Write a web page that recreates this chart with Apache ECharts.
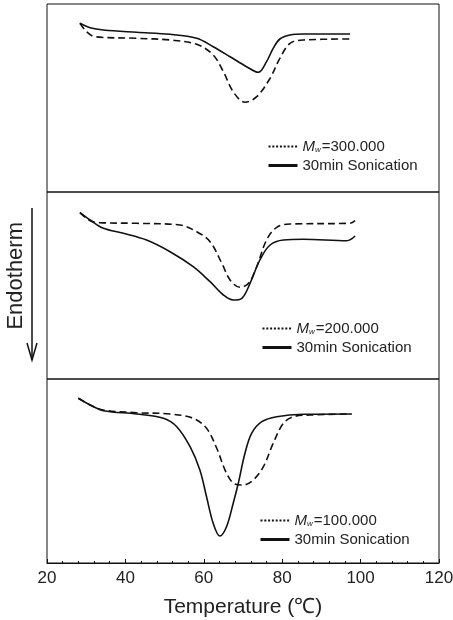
<!DOCTYPE html>
<html>
<head>
<meta charset="utf-8">
<script src="https://cdn.jsdelivr.net/npm/echarts@6/dist/echarts.min.js"></script>
<style>
  html, body { margin: 0; padding: 0; background: #fff; }
  #chart { width: 453px; height: 620px; }
</style>
</head>
<body>
<div id="chart"></div>
<script>
// X-axis ticks (Temperature, °C)
var xTicks = [20, 40, 60, 80, 100, 120];

// Panel 1: Mw = 300.000 (arbitrary heat-flow units)
var p1DashT = [28.4, 30.1, 32.2, 42.9, 51.4, 58.2, 62.4, 65.0, 67.5, 70.5, 73.5, 76.9, 79.4, 82.0, 85.4, 97.3];
var p1DashV = [168.7, 160.3, 155.3, 153.7, 152, 147.7, 137, 120.3, 100.3, 89.7, 95.3, 113.7, 133.7, 148.7, 152, 153];
var p1SolT = [28.4, 31.0, 34.4, 42.9, 51.4, 58.2, 62.4, 66.7, 70.9, 73.9, 76.0, 77.7, 79.4, 82.0, 85.4, 97.3];
var p1SolV = [168.7, 164.3, 162, 159.7, 157.7, 153.7, 145.3, 135.3, 125.3, 119.7, 130.3, 143.7, 153, 157, 158, 158];

// Panel 2: Mw = 200.000
var p2DashT = [28.4, 31.0, 33.5, 42.9, 53.9, 58.2, 61.6, 64.6, 66.7, 69.2, 71.4, 73.5, 76.0, 78.6, 82.0, 97.3, 98.6];
var p2DashV = [166.3, 158.3, 156.3, 155.7, 154, 147.3, 137.3, 115.7, 99, 91.7, 95.7, 112.3, 139, 151.7, 155, 155.7, 158.3];
var p2SolT = [28.4, 31.0, 34.4, 39.5, 45.4, 51.4, 57.3, 61.6, 65.0, 67.5, 69.7, 71.8, 74.3, 76.9, 80.3, 85.4, 96.5, 98.6];
var p2SolV = [166.3, 159, 150.7, 145.7, 139, 127.3, 112.3, 97.3, 84, 79, 80.7, 95.7, 119, 134, 139, 139.7, 138.3, 143];

// Panel 3: Mw = 100.000
var p3DashT = [28.0, 31.0, 34.4, 42.9, 51.4, 57.3, 60.7, 63.3, 65.8, 67.9, 70.0, 72.6, 75.2, 77.7, 80.3, 82.9, 87.1, 97.7];
var p3DashV = [164.7, 158, 153, 150.3, 149, 144.7, 134.7, 114.7, 89.7, 79, 78, 83, 96.3, 119.7, 139.7, 146.3, 148, 149];
var p3SolT = [28.0, 31.0, 34.4, 42.9, 49.7, 53.1, 56.5, 59.0, 60.7, 62.4, 64.1, 65.8, 67.5, 68.8, 70.5, 72.2, 74.8, 78.6, 85.4, 97.7];
var p3SolV = [164.7, 158, 152.3, 149, 144.7, 136.3, 116.3, 93, 66.3, 39.7, 27, 36.3, 59.7, 79.7, 109.7, 129.7, 141.3, 146.3, 148.7, 149];

var mwNames = ['Mw=300.000', 'Mw=200.000', 'Mw=100.000'];
var sonName = '30min Sonication';

function pairs(t, v) { return t.map(function (x, i) { return [x, v[i]]; }); }

var FONT = 'Liberation Sans, Arial, Helvetica, sans-serif';
var INK = '#111';

var grids = [
  { left: 47, right: 14, top: 4, height: 188 },
  { left: 47, right: 14, top: 192, height: 187 },
  { left: 47, right: 14, top: 379, height: 184 }
].map(function (g) {
  return Object.assign({
    show: true, borderColor: INK, borderWidth: 1, backgroundColor: 'transparent',
    containLabel: false, outerBoundsMode: 'none'
  }, g);
});

var yMax = [188, 187, 184];

function xAxisFor(i) {
  var bottom = (i === 2);
  return {
    type: 'value', gridIndex: i, min: xTicks[0], max: xTicks[xTicks.length - 1], interval: 20,
    axisLine: { show: bottom, lineStyle: { color: INK, width: 1 } },
    axisTick: { show: bottom, inside: true, length: 4, lineStyle: { color: INK } },
    minorTick: { show: bottom, splitNumber: 5, length: 2, lineStyle: { color: INK } },
    axisLabel: { show: bottom, color: '#222', fontSize: 17, fontFamily: FONT, margin: 7 },
    splitLine: { show: false },
    name: bottom ? 'Temperature (℃)' : '',
    nameLocation: 'middle', nameGap: 34,
    nameTextStyle: { color: '#222', fontSize: 21, fontFamily: FONT }
  };
}

function yAxisFor(i) {
  return {
    type: 'value', gridIndex: i, min: 0, max: yMax[i],
    axisLine: { show: false }, axisTick: { show: false }, axisLabel: { show: false }, splitLine: { show: false }
  };
}

function lineSeries(name, i, t, v, dashed) {
  return {
    name: name, type: 'line', xAxisIndex: i, yAxisIndex: i,
    data: pairs(t, v), smooth: 0.35, symbol: 'none', showSymbol: false,
    lineStyle: { color: INK, width: 1.6, type: dashed ? [7, 4] : 'solid' },
    itemStyle: { color: INK },
    silent: true, animation: false
  };
}

var series = [
  lineSeries(mwNames[0], 0, p1DashT, p1DashV, true),
  lineSeries(sonName, 0, p1SolT, p1SolV, false),
  lineSeries(mwNames[1], 1, p2DashT, p2DashV, true),
  lineSeries(sonName, 1, p2SolT, p2SolV, false),
  lineSeries(mwNames[2], 2, p3DashT, p3DashV, true),
  lineSeries(sonName, 2, p3SolT, p3SolV, false)
];

var legendPos = [
  { left: 267, top: 139 },
  { left: 261, top: 321 },
  { left: 259, top: 513 }
];

var legends = legendPos.map(function (p, i) {
  return {
    orient: 'vertical', left: p.left, top: p.top, itemGap: 4,
    itemWidth: 29, itemHeight: 14, selectedMode: false, padding: 0,
    data: [
      { name: mwNames[i], itemStyle: { opacity: 0 }, lineStyle: { type: [2, 1.8], width: 2, color: INK } },
      { name: sonName, itemStyle: { opacity: 0 }, lineStyle: { type: 'solid', width: 3, color: INK } }
    ],
    formatter: function (name) {
      if (name.indexOf('Mw') === 0) return '{m|M}{s|w}{t|' + name.slice(2) + '}';
      return '{t|' + name + '}';
    },
    textStyle: {
      color: '#222', fontFamily: FONT, fontSize: 15,
      rich: {
        m: { fontStyle: 'italic', fontSize: 15, fontFamily: FONT, color: '#222', lineHeight: 14 },
        s: { fontStyle: 'italic', fontSize: 8, fontFamily: FONT, color: '#222', lineHeight: 14, padding: [6, 1, 0, 0] },
        t: { fontSize: 15, fontFamily: FONT, color: '#222', lineHeight: 14 }
      }
    }
  };
});

var chart = echarts.init(document.getElementById('chart'), null, { renderer: 'canvas' });
chart.setOption({
  animation: false,
  backgroundColor: '#fff',
  grid: grids,
  xAxis: [0, 1, 2].map(xAxisFor),
  yAxis: [0, 1, 2].map(yAxisFor),
  legend: legends,
  series: series,
  graphic: [
    {
      type: 'text', left: 5, top: 222, rotation: Math.PI / 2,
      style: { text: 'Endotherm', fill: '#222', font: '22px ' + FONT }
    },
    {
      type: 'line', shape: { x1: 32, y1: 208, x2: 32, y2: 360 },
      style: { stroke: INK, lineWidth: 1.5 }
    },
    {
      type: 'polyline', shape: { points: [[27, 343], [32, 360], [37, 343]] },
      style: { stroke: INK, lineWidth: 1.5, fill: null }
    }
  ]
});
</script>
</body>
</html>
